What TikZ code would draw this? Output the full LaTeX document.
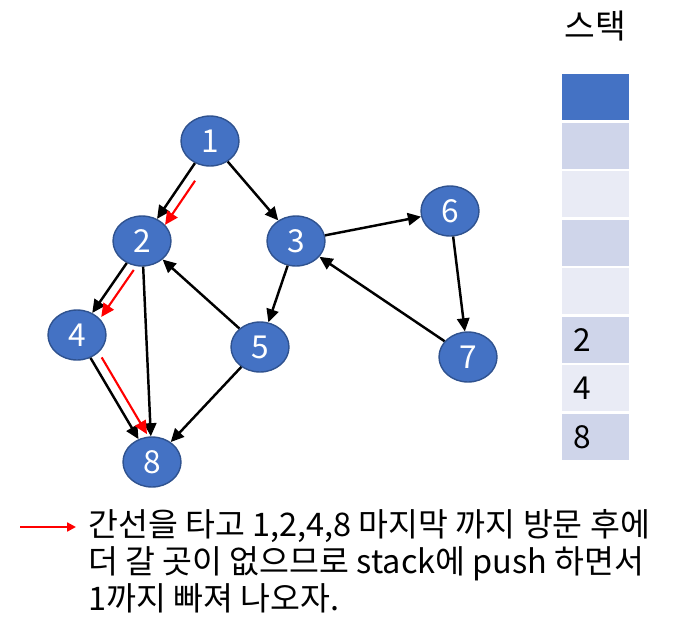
\documentclass[tikz,border=0pt]{standalone}
\usepackage{fontspec}
\setmainfont{Noto Sans CJK KR}
\usepackage{tikz}
\usetikzlibrary{shapes.geometric, arrows.meta, positioning}

\definecolor{nodeblue}{HTML}{4472C4}
\definecolor{nodeline}{HTML}{2F528F}
\definecolor{rowdark}{HTML}{CFD5EA}
\definecolor{rowlight}{HTML}{E9EBF5}

\begin{document}
\begin{tikzpicture}[x=0.02cm, y=-0.02cm, >={Triangle[length=7.5pt,width=7pt]},
  vertex/.style={ellipse, fill=nodeblue, draw=nodeline, line width=0.8pt, minimum width=1.16cm, minimum height=1cm, inner sep=0pt, text=white, font=\fontsize{18}{21}\selectfont},
  edge/.style={->, line width=1.4pt},
  visit/.style={->, red, line width=1.2pt},
  cell/.style={rectangle, draw=white, line width=1.2pt, minimum height=0.97cm, inner xsep=0.24cm, inner ysep=0pt, text width=0.9cm, align=left, font=\fontsize{18}{21}\selectfont}]
\useasboundingbox (0,0) rectangle (700,633);

% graph
\node[vertex](N1) at (210,141){1};
\node[vertex](N2) at (142,241){2};
\node[vertex](N3) at (296,241){3};
\node[vertex](N4) at (77,335){4};
\node[vertex](N5) at (260,347){5};
\node[vertex](N6) at (450,211){6};
\node[vertex](N7) at (468,357){7};
\node[vertex](N8) at (152,462){8};

\draw[edge](N1)--(N2);
\draw[edge](N1)--(N3);
\draw[edge](N2)--(N4);
\draw[edge](N2)--(N8);
\draw[edge](N5)--(N2);
\draw[edge](N3)--(N5);
\draw[edge](N3)--(N6);
\draw[edge](N6)--(N7);
\draw[edge](N7)--(N3);
\draw[edge](N4)--(N8);
\draw[edge](N5)--(N8);

% visited path
\draw[visit, shorten <=8pt, transform canvas={xshift=0.16cm, yshift=-0.12cm}](N1)--(N2);
\draw[visit, shorten <=2pt, transform canvas={xshift=0.18cm, yshift=-0.08cm}](N2)--(N4);
\draw[visit, shorten <=3pt, transform canvas={xshift=0.17cm, yshift=0.1cm}](N4)--(N8);

% stack
\node(title) at (595,26){\fontsize{19}{22}\selectfont 스택};
\node[cell, fill=nodeblue](S1) at (595.5,97.25){};
\node[cell, fill=rowdark](S2) at (595.5,145.75){};
\node[cell, fill=rowlight](S3) at (595.5,194.25){};
\node[cell, fill=rowdark](S4) at (595.5,242.75){};
\node[cell, fill=rowlight](S5) at (595.5,291.25){};
\node[cell, fill=rowdark](S6) at (595.5,339.75){2};
\node[cell, fill=rowlight](S7) at (595.5,388.25){4};
\node[cell, fill=rowdark](S8) at (595.5,436.75){8};

% legend
\coordinate(L0) at (20,527);
\coordinate(L1) at (76,527);
\draw[visit, >={Triangle[length=5pt,width=5pt]}](L0)--(L1);
\node[anchor=north west, align=left, inner sep=0pt, font=\fontsize{18.5}{21}\selectfont](note) at (88,509){간선을 타고 1,2,4,8 마지막 까지 방문 후에\\더 갈 곳이 없으므로 stack에 push 하면서\\1까지 빠져 나오자.};
\end{tikzpicture}
\end{document}
